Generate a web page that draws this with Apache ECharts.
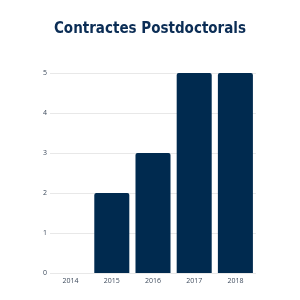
<!DOCTYPE html>
<html>
<head>
<meta charset="utf-8">
<script src="https://cdn.jsdelivr.net/npm/echarts@6/dist/echarts.min.js"></script>
<style>
  html, body { margin: 0; padding: 0; background: #fff; }
  #chart { width: 300px; height: 300px; }
</style>
</head>
<body>
<div id="chart"></div>
<script>
// dades
const years = ["2014", "2015", "2016", "2017", "2018"];
const contractes = [0, 2, 3, 5, 5];

const chart = echarts.init(document.getElementById("chart"));
chart.setOption({
  animation: false,
  title: {
    text: "Contractes Postdoctorals",
    left: "center",
    top: 17,
    textStyle: {
      fontFamily: "DejaVu Sans Condensed",
      fontWeight: "bold",
      fontSize: 15,
      color: "#0b2d55"
    }
  },
  grid: {
    left: 50,
    right: 44,
    top: 73,
    bottom: 27,
    containLabel: false
  },
  xAxis: {
    type: "category",
    data: years,
    axisLine: { show: false },
    axisTick: { show: false },
    axisLabel: {
      color: "#3d4a5c",
      fontSize: 7,
      fontFamily: "Open Sans, sans-serif",
      margin: 4
    }
  },
  yAxis: {
    type: "value",
    min: 0,
    max: 5,
    interval: 1,
    axisLine: { show: false },
    axisTick: { show: false },
    axisLabel: {
      color: "#3d4a5c",
      fontSize: 7,
      fontFamily: "Open Sans, sans-serif",
      margin: 3
    },
    splitLine: { lineStyle: { color: "#e8e8e8", width: 1 } }
  },
  series: [{
    type: "bar",
    data: contractes,
    barCategoryGap: "15%",
    itemStyle: {
      color: "#002a4f",
      borderRadius: [2, 2, 0, 0]
    }
  }]
});
</script>
</body>
</html>
